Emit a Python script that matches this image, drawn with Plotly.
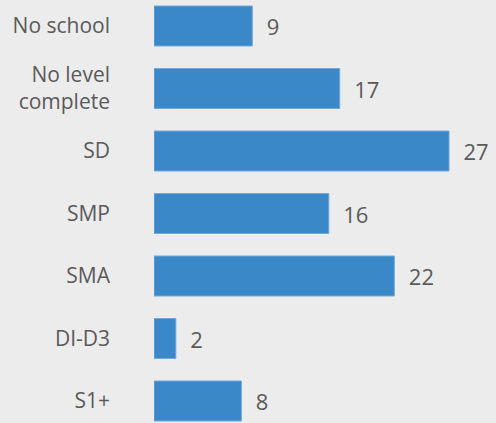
import plotly.graph_objects as go

# Share of population by highest education level (%)
levels = ["No school", "No level<br>complete", "SD", "SMP", "SMA", "DI-D3", "S1+"]
shares = [9, 17, 27, 16, 22, 2, 8]

bar_color = "#3a88c8"
edge_color = "#72aadc"
text_color = "#5a5a5a"
bg_color = "#ececec"

fig = go.Figure(
    go.Bar(
        x=shares,
        y=levels,
        orientation="h",
        width=0.64,
        marker=dict(color=bar_color, line=dict(color=edge_color, width=1)),
        text=["  " + str(v) for v in shares],
        textposition="outside",
        constraintext="none",
        cliponaxis=False,
        textfont=dict(family="Open Sans", size=22, color=text_color),
        hoverinfo="skip",
    )
)

fig.update_layout(
    width=496,
    height=423,
    margin=dict(l=154, r=0, t=0, b=0),
    paper_bgcolor=bg_color,
    plot_bgcolor=bg_color,
    showlegend=False,
    font=dict(family="Open Sans", size=21, color=text_color),
)
fig.update_xaxes(
    range=[0, 31.3],
    visible=False,
    showgrid=False,
    zeroline=False,
)
fig.update_yaxes(
    type="category",
    range=[6.352, -0.416],
    showgrid=False,
    zeroline=False,
    showline=False,
    ticks="",
    ticklabelstandoff=43,
    tickfont=dict(family="Open Sans", size=21, color=text_color),
)

fig.write_html("out.html")
